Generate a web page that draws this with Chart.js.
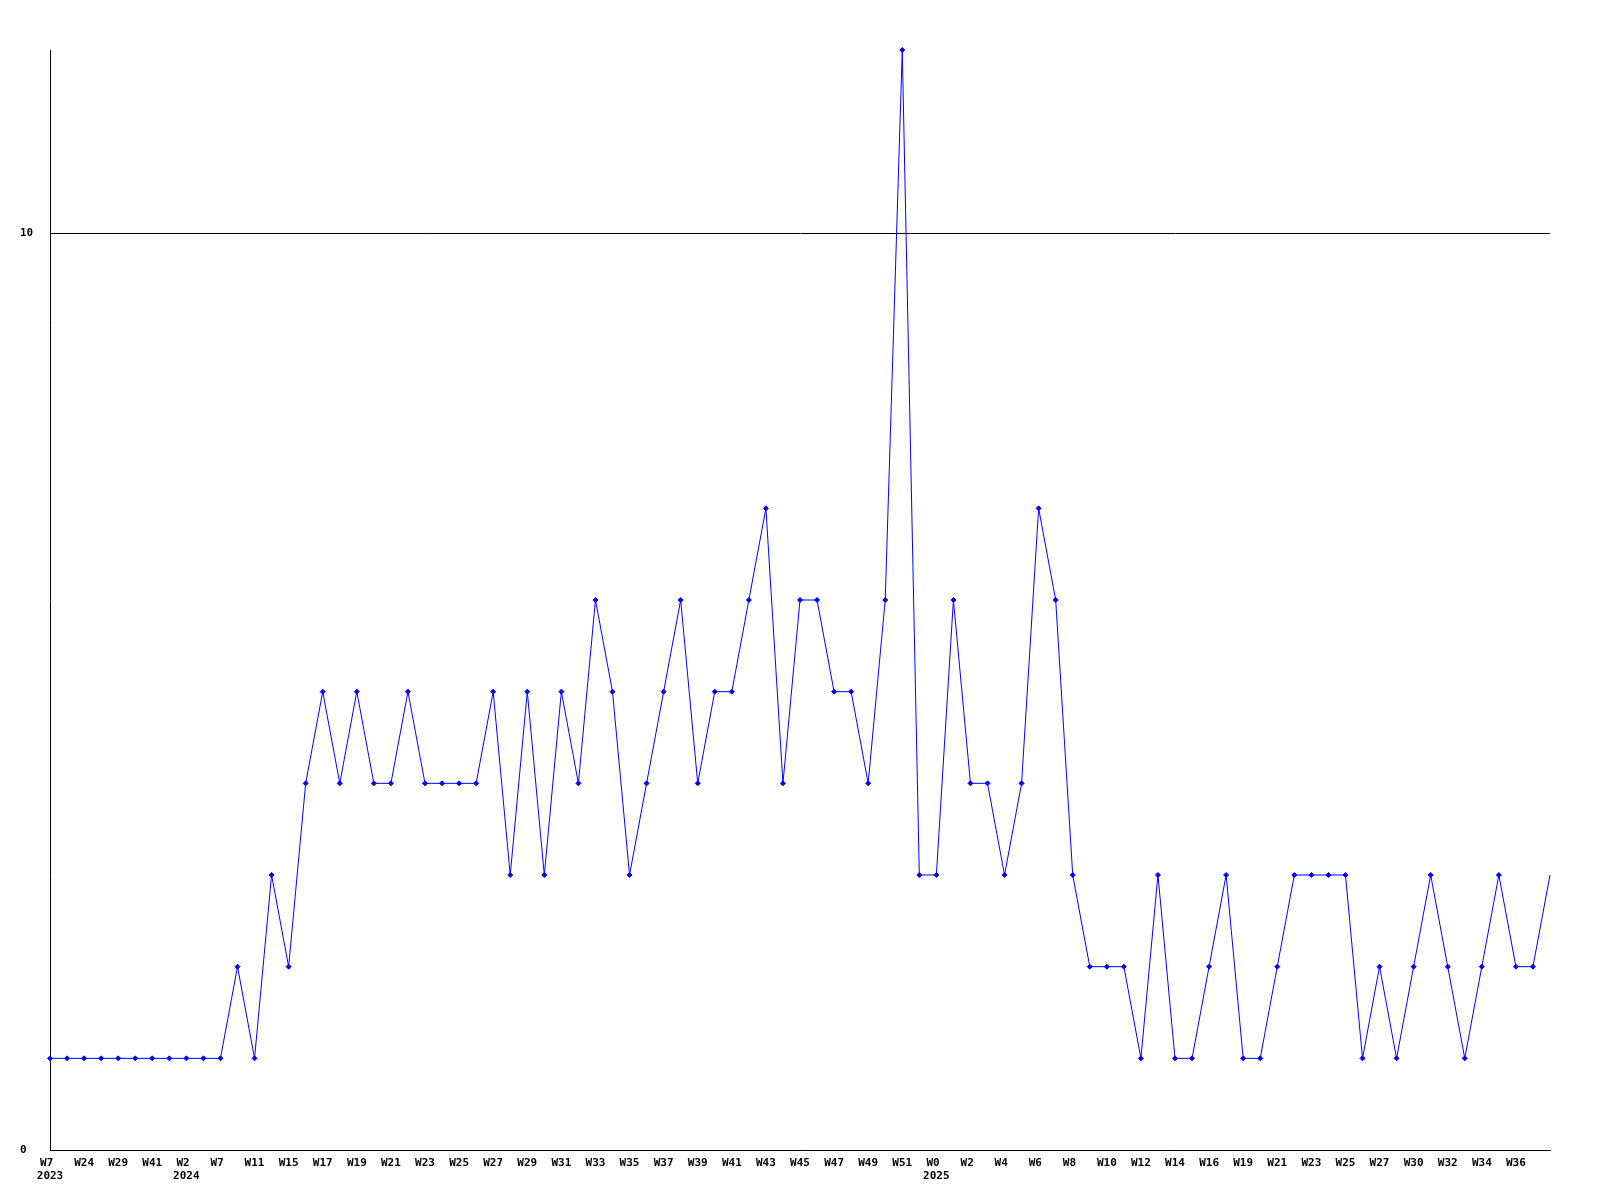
<!DOCTYPE html>
<html>
<head>
<meta charset="utf-8">
<script src="https://cdn.jsdelivr.net/npm/chart.js@4/dist/chart.umd.min.js"></script>
<style>
    body { margin: 0; background: #ffffff; }
    #caixa { width: 1600px; height: 1200px; }
</style>
</head>
<body>
<div id="caixa"><canvas id="grafico"></canvas></div>
<script>
// valores por semana (um ponto por semana)
var valores = [
    1, 1, 1, 1, 1, 1, 1, 1, 1, 1,
    1, 2, 1, 3, 2, 4, 5, 4, 5, 4,
    4, 5, 4, 4, 4, 4, 5, 3, 5, 3,
    5, 4, 6, 5, 3, 4, 5, 6, 4, 5,
    5, 6, 7, 4, 6, 6, 5, 5, 4, 6,
    12, 3, 3, 6, 4, 4, 3, 4, 7, 6,
    3, 2, 2, 2, 1, 3, 1, 1, 2, 3,
    1, 1, 2, 3, 3, 3, 3, 1, 2, 1,
    2, 3, 2, 1, 2, 3, 2, 2, 3
];

// rótulos do eixo x, só a cada duas semanas
var semanas = [
    "W7", "W24", "W29", "W41", "W2", "W7", "W11", "W15", "W17", "W19",
    "W21", "W23", "W25", "W27", "W29", "W31", "W33", "W35", "W37", "W39",
    "W41", "W43", "W45", "W47", "W49", "W51", "W0", "W2", "W4", "W6",
    "W8", "W10", "W12", "W14", "W16", "W19", "W21", "W23", "W25", "W27",
    "W30", "W32", "W34", "W36"
];

// anos que aparecem embaixo de alguns rótulos
var anoPosicoes = [0, 8, 52];
var anos = ["2023", "2024", "2025"];

var ticksY = [0, 10];

var fonte = { family: "'DejaVu Sans Mono', monospace", size: 11, weight: "bold", lineHeight: 13 / 11 };

var labels = valores.map(function (v, i) {
    var semana = (i % 2 === 0 && semanas[i / 2]) ? semanas[i / 2] : "";
    // completa com espaço pra ficar alinhado à esquerda como no original
    var linhas = [semana ? semana.padEnd(3, " ") : ""];
    var a = anoPosicoes.indexOf(i);
    if (a >= 0) linhas.push(anos[a]);
    return linhas;
});

var config = {
    type: "line",
    data: {
        labels: labels,
        datasets: [{
            data: valores,
            borderColor: "#0000ff",
            backgroundColor: "#0000ff",
            borderWidth: 1,
            tension: 0,
            fill: false,
            clip: false,
            pointStyle: "rectRot",
            pointRadius: function (ctx) {
                // a última semana não tem marcador
                return ctx.dataIndex === valores.length - 1 ? 0 : 2.5;
            },
            pointBorderWidth: 1
        }]
    },
    options: {
        responsive: true,
        maintainAspectRatio: false,
        animation: false,
        layout: { padding: { top: 50, left: 20, right: 50, bottom: 0 } },
        plugins: {
            legend: { display: false },
            tooltip: { enabled: false }
        },
        scales: {
            x: {
                offset: false,
                grid: { display: false, drawTicks: false },
                border: { display: true, color: "#000000", width: 1 },
                ticks: {
                    autoSkip: false,
                    maxRotation: 0,
                    minRotation: 0,
                    padding: 7,
                    color: "#000000",
                    font: fonte
                },
                afterFit: function (scale) { scale.height = 50; }
            },
            y: {
                min: 0,
                max: 12,
                afterBuildTicks: function (scale) {
                    scale.ticks = ticksY.map(function (v) { return { value: v }; });
                },
                grid: { color: "#000000", lineWidth: 1, drawTicks: false },
                border: { display: true, color: "#000000", width: 1 },
                ticks: {
                    crossAlign: "far",
                    color: "#000000",
                    font: fonte
                },
                afterFit: function (scale) { scale.width = 30; }
            }
        }
    }
};

var meuGrafico = new Chart(document.getElementById("grafico"), config);
</script>
</body>
</html>
